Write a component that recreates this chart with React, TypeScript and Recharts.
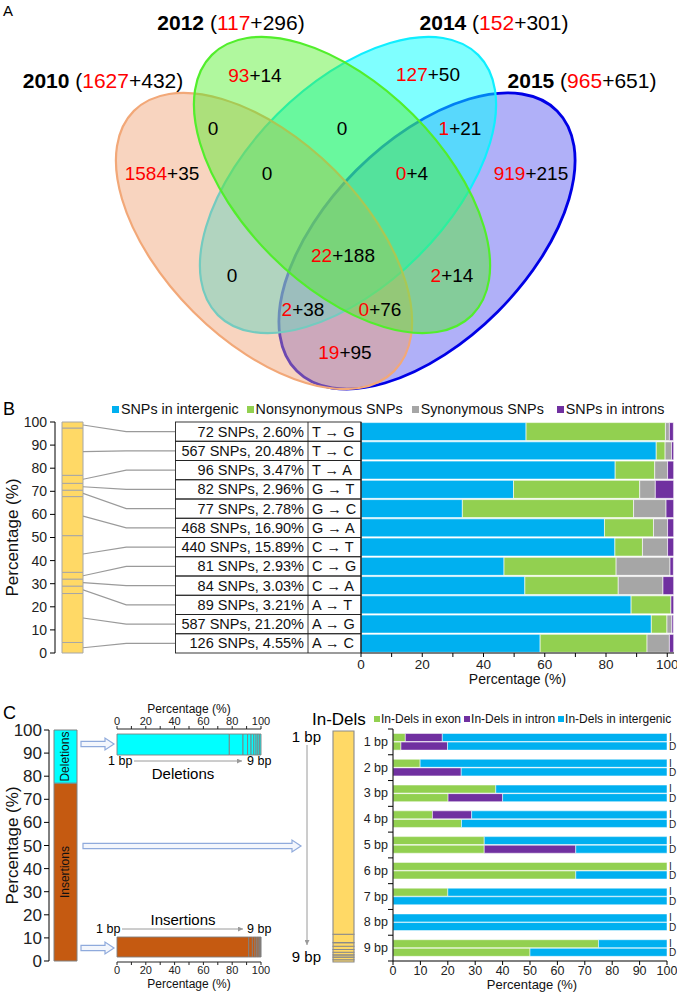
import React from "react";
import {
  ScatterChart,
  Scatter,
  BarChart,
  Bar,
  LineChart,
  Line,
  XAxis,
  YAxis,
  Legend,
  LabelList,
} from "recharts";

const FONT = '"Liberation Sans", Arial, Helvetica, sans-serif';
const RED = "#ff0000";
const C_INTERGENIC = "#00b0f0";
const C_NONSYN = "#92d050";
const C_SYN = "#a6a6a6";
const C_INTRON = "#7030a0";
const C_YELLOW = "#ffd966";
const C_INS = "#c55a11";
const C_DEL = "#00ffff";

const TICKS10 = [0, 10, 20, 30, 40, 50, 60, 70, 80, 90, 100];

// ---------- A: Venn ----------
const vennYears = ["2010", "2012", "2014", "2015"];
const vennNovel = [1627, 117, 152, 965];
const vennKnown = [432, 296, 301, 651];
// 15 regions: 4 singles, then the overlaps
const regionNovel = [1584, 93, 127, 919, 0, 0, 1, 0, 0, 22, 0, 2, 2, 0, 19];
const regionKnown = [35, 14, 50, 215, 0, 0, 21, 0, 4, 188, 0, 14, 38, 76, 95];

// ---------- B: SNPs ----------
const snpTypes = ["T → G", "T → C", "T → A", "G → T", "G → C", "G → A", "C → T", "C → G", "C → A", "A → T", "A → G", "A → C"];
const snpCounts = [72, 567, 96, 82, 77, 468, 440, 81, 84, 89, 587, 126];
const snpShares = [2.6, 20.48, 3.47, 2.96, 2.78, 16.9, 15.89, 2.93, 3.03, 3.21, 21.2, 4.55];
const snpIntergenic = [53.9, 96.4, 83.0, 49.8, 33.1, 79.5, 82.9, 46.7, 53.5, 88.2, 94.8, 58.5];
const snpNonsyn = [45.5, 2.9, 12.9, 41.2, 55.9, 16.0, 9.0, 36.6, 30.5, 13.0, 5.1, 34.9];
const snpSyn = [1.3, 2.1, 4.2, 5.1, 10.6, 4.6, 8.2, 17.6, 14.6, 0, 1.6, 7.3];
const snpIntron = [1.3, 0.7, 2.0, 6.0, 2.5, 2.0, 2.0, 1.1, 3.5, 0.9, 0.5, 1.4];

// ---------- C: In-Dels ----------
const indelKinds = ["Insertions", "Deletions"];
const indelShares = [77, 23];
const sizeLabels = ["1 bp", "2 bp", "3 bp", "4 bp", "5 bp", "6 bp", "7 bp", "8 bp", "9 bp"];
const delBySize = [78.0, 9.5, 3.2, 2.4, 1.9, 1.6, 1.3, 1.2, 0.9];
const insBySize = [91.5, 2.5, 1.8, 1.2, 1.0, 0.8, 0.5, 0.4, 0.3];
const allBySize = [88.0, 3.6, 1.6, 1.4, 1.2, 1.1, 1.0, 1.1, 1.0];
const exonI = [4.5, 9.9, 37.5, 14.4, 33.3, 100, 20, 0, 75];
const intronI = [13.5, 0, 0, 14.3, 0, 0, 0, 0, 0];
const interI = [82.0, 90.1, 62.5, 71.3, 66.7, 0, 80, 100, 25];
const exonD = [2.9, 0, 20.1, 25.0, 33.3, 66.7, 0, 0, 50];
const intronD = [17.0, 24.9, 19.9, 0, 33.4, 0, 0, 0, 0];
const interD = [80.1, 75.1, 60.0, 75.0, 33.3, 33.3, 100, 100, 50];

// Venn layout (own 677 x 392 units)
const ELLIPSES = [
  { ex: 264, ey: 241, rot: 45, fill: "#f0a070", op: 0.45, stroke: "#f2a878", sw: 2.2 },
  { ex: 342, ey: 185, rot: 45, fill: "#50f028", op: 0.45, stroke: "#52ee2c", sw: 2.2 },
  { ex: 348, ey: 185, rot: -45, fill: "#00ffff", op: 0.5, stroke: "#10eeff", sw: 2.2 },
  { ex: 427, ey: 241, rot: -45, fill: "#5a5af0", op: 0.48, stroke: "#0000e6", sw: 2.8 },
];
const DRAW_ORDER = [3, 2, 0, 1];
const TITLE_POS = [[103, 80], [231, 22], [494, 22], [582, 80]];
const REGION_POS = [
  [162, 173], [255, 75], [428, 74], [531, 173], [213, 128], [342, 128], [460, 128],
  [267, 173], [412, 173], [343, 255], [232, 275], [452, 275], [303, 309], [380, 309], [345, 352],
];

const every20 = (v: number) => (v % 20 === 0 ? String(v) : "");

const EllipseShape = (p: any) => {
  const e = p.payload;
  return (
    <ellipse
      cx={p.cx}
      cy={p.cy}
      rx={184}
      ry={100}
      transform={`rotate(${e.rot} ${p.cx} ${p.cy})`}
      fill={e.fill}
      fillOpacity={e.op}
      stroke={e.stroke}
      strokeWidth={e.sw}
    />
  );
};

const RegionLabel = (p: any) => {
  const { novel, known } = p.payload;
  return (
    <text x={p.cx} y={p.cy} textAnchor="middle" dominantBaseline="central" fontSize={19} fill="#000">
      {novel === 0 && known === 0 ? (
        "0"
      ) : (
        <>
          <tspan fill={RED}>{novel}</tspan>
          <tspan>+{known}</tspan>
        </>
      )}
    </text>
  );
};

const TitleLabel = (p: any) => {
  const d = p.payload;
  return (
    <text x={p.cx} y={p.cy} textAnchor="middle" dominantBaseline="central" fontSize={21} fill="#000">
      <tspan fontWeight="bold">{d.year}</tspan>
      <tspan> (</tspan>
      <tspan fill={RED}>{d.novel}</tspan>
      <tspan>+{d.known})</tspan>
    </text>
  );
};

const VennPanel = () => {
  const ellipseData = DRAW_ORDER.map((i) => ({ x: ELLIPSES[i].ex, y: ELLIPSES[i].ey, ...ELLIPSES[i] }));
  const regionData = regionNovel.map((n, i) => ({ x: REGION_POS[i][0], y: REGION_POS[i][1], novel: n, known: regionKnown[i] }));
  const titleData = vennYears.map((yr, i) => ({ x: TITLE_POS[i][0], y: TITLE_POS[i][1], year: yr, novel: vennNovel[i], known: vennKnown[i] }));
  return (
    <ScatterChart width={677} height={392} margin={{ top: 0, right: 0, bottom: 0, left: 0 }}>
      <XAxis type="number" dataKey="x" domain={[0, 677]} hide />
      <YAxis type="number" dataKey="y" domain={[0, 392]} reversed hide />
      <Scatter data={ellipseData} shape={EllipseShape} isAnimationActive={false} />
      <Scatter data={regionData} shape={RegionLabel} isAnimationActive={false} />
      <Scatter data={titleData} shape={TitleLabel} isAnimationActive={false} />
    </ScatterChart>
  );
};

// ---------- shared bits ----------
const vTitle = (x: number, y: number, size: number) => () => (
  <text x={x} y={y} transform={`rotate(-90 ${x} ${y})`} textAnchor="middle" dominantBaseline="central" fontSize={size} fill="#111">
    Percentage (%)
  </text>
);
const hTitle = (x: number, y: number, size: number) => () => (
  <text x={x} y={y} textAnchor="middle" dominantBaseline="central" fontSize={size} fill="#111">
    Percentage (%)
  </text>
);

const LegendRow = ({ items, fontSize, gaps, box, boxGap }: any) => (
  <div style={{ display: "flex", fontSize, fontFamily: FONT, color: "#111", whiteSpace: "nowrap", lineHeight: `${fontSize + 4}px` }}>
    {items.map((it: any, i: number) => (
      <span key={it.label} style={{ display: "flex", alignItems: "center", marginLeft: i === 0 ? 0 : gaps[i - 1] }}>
        <span style={{ width: box, height: box, background: it.color, marginRight: boxGap, display: "inline-block" }} />
        {it.label}
      </span>
    ))}
  </div>
);

// ---------- B ----------
const B_PLOT_H = 231;
const TABLE_W = 186;
const TABLE_SPLIT = 133;

const snpRows = snpTypes.map((t, i) => ({
  type: t,
  intergenic: snpIntergenic[i],
  nonsyn: snpNonsyn[i],
  syn: snpSyn[i],
  intron: snpIntron[i],
}));

const TableTick = (p: any) => {
  const i = p.index;
  const rh = B_PLOT_H / snpTypes.length;
  const y = p.y;
  return (
    <g>
      <rect x={0.5} y={y - rh / 2} width={TABLE_W - 0.5} height={rh} fill="none" stroke="#222" strokeWidth={0.9} />
      <line x1={TABLE_SPLIT} x2={TABLE_SPLIT} y1={y - rh / 2} y2={y + rh / 2} stroke="#222" strokeWidth={0.9} />
      <text x={TABLE_SPLIT - 4} y={y} textAnchor="end" dominantBaseline="central" fontSize={14.5} fill="#111">
        {`${snpCounts[i]} SNPs, ${snpShares[i].toFixed(2)}%`}
      </text>
      <text x={TABLE_SPLIT + 4} y={y} dominantBaseline="central" fontSize={14.5} fill="#111">
        {p.payload.value}
      </text>
    </g>
  );
};

const SnpColumn = () => {
  const row = [Object.fromEntries(snpTypes.map((t, i) => [`s${i}`, snpShares[i]]))];
  const bottomUp = snpTypes.map((_, i) => snpTypes.length - 1 - i);
  return (
    <BarChart width={90} height={251} data={row} margin={{ top: 10, right: 0, bottom: 10, left: 0 }} barCategoryGap={7}>
      <XAxis hide />
      <YAxis
        type="number"
        domain={[0, 100]}
        ticks={TICKS10}
        interval={0}
        width={55}
        tickSize={5}
        tickMargin={3}
        tick={{ fontSize: 14, fill: "#222" }}
        axisLine={{ stroke: "#000" }}
        tickLine={{ stroke: "#000" }}
        label={vTitle(12, 125.5, 17)}
      />
      {bottomUp.map((i) => (
        <Bar key={i} dataKey={`s${i}`} stackId="y" fill={C_YELLOW} stroke="#a6a6a6" strokeWidth={1} isAnimationActive={false} />
      ))}
    </BarChart>
  );
};

const ELBOW = 0.47;
const SnpConnectors = () => {
  const n = snpTypes.length;
  const lines = snpTypes.map((_, i) => {
    let below = 0;
    for (let k = i + 1; k < n; k++) below += snpShares[k];
    const mid = below + snpShares[i] / 2;
    const rowC = 100 - ((i + 0.5) * 100) / n;
    return [
      { x: 0, y: mid },
      { x: ELBOW, y: rowC },
      { x: 1, y: rowC },
    ];
  });
  return (
    <LineChart width={92} height={251} margin={{ top: 10, right: 0, bottom: 10, left: 0 }}>
      <XAxis type="number" dataKey="x" domain={[0, 1]} hide />
      <YAxis type="number" domain={[0, 100]} hide />
      {lines.map((pts, i) => (
        <Line key={i} data={pts} dataKey="y" type="linear" stroke="#9a9a9a" strokeWidth={1.1} dot={false} isAnimationActive={false} />
      ))}
    </LineChart>
  );
};

const snpLegend = [
  { label: "SNPs in intergenic", color: C_INTERGENIC },
  { label: "Nonsynonymous SNPs", color: C_NONSYN },
  { label: "Synonymous SNPs", color: C_SYN },
  { label: "SNPs in introns", color: C_INTRON },
];

const SnpBars = () => (
  <BarChart layout="vertical" width={502} height={290} data={snpRows} margin={{ top: 22, right: 3, bottom: 5, left: 0 }} barCategoryGap={0.6}>
    <XAxis
      type="number"
      domain={[0, 102.2]}
      allowDataOverflow
      ticks={TICKS10}
      interval={0}
      tickFormatter={every20}
      height={32}
      tickSize={4}
      tickMargin={2}
      tick={{ fontSize: 13.5, fill: "#222" }}
      axisLine={{ stroke: "#000" }}
      tickLine={{ stroke: "#000" }}
      label={hTitle(342.5, 279, 14)}
    />
    <YAxis type="category" dataKey="type" width={TABLE_W} tick={<TableTick />} tickLine={false} axisLine={{ stroke: "#000" }} interval={0} />
    <Legend
      verticalAlign="middle"
      align="center"
      wrapperStyle={{ left: -63, top: 0, width: 565 }}
      content={() => <LegendRow items={snpLegend} fontSize={14.3} gaps={[8, 9, 13]} box={7} boxGap={2} />}
    />
    <Bar dataKey="intergenic" stackId="s" fill={C_INTERGENIC} stroke="#fff" strokeWidth={0.6} isAnimationActive={false} />
    <Bar dataKey="nonsyn" stackId="s" fill={C_NONSYN} stroke="#fff" strokeWidth={0.6} isAnimationActive={false} />
    <Bar dataKey="syn" stackId="s" fill={C_SYN} stroke="#fff" strokeWidth={0.6} isAnimationActive={false} />
    <Bar dataKey="intron" stackId="s" fill={C_INTRON} stroke="#fff" strokeWidth={0.6} isAnimationActive={false} />
  </BarChart>
);

// ---------- C ----------
const innerVLabel = (txt: string) => (p: any) => {
  const vb = p.viewBox || p;
  const cx = vb.x + vb.width / 2;
  const cy = vb.y + vb.height / 2;
  return (
    <text x={cx} y={cy} transform={`rotate(-90 ${cx} ${cy})`} textAnchor="middle" dominantBaseline="central" fontSize={12} fill="#111">
      {txt}
    </text>
  );
};

const IndelColumn = () => {
  const row = [{ ins: indelShares[0], del: indelShares[1] }];
  return (
    <BarChart width={82} height={251} data={row} margin={{ top: 10, right: 0, bottom: 10, left: 0 }} barCategoryGap={5}>
      <XAxis hide />
      <YAxis
        type="number"
        domain={[0, 100]}
        ticks={TICKS10}
        interval={0}
        width={49}
        tickSize={5}
        tickMargin={2}
        tick={{ fontSize: 17, fill: "#222" }}
        axisLine={{ stroke: "#000" }}
        tickLine={{ stroke: "#000" }}
        label={vTitle(12, 125.5, 17)}
      />
      <Bar dataKey="ins" stackId="c" fill={C_INS} stroke="#808080" strokeWidth={1} isAnimationActive={false}>
        <LabelList content={innerVLabel(indelKinds[0])} />
      </Bar>
      <Bar dataKey="del" stackId="c" fill={C_DEL} stroke="#808080" strokeWidth={1} isAnimationActive={false}>
        <LabelList content={innerVLabel(indelKinds[1])} />
      </Bar>
    </BarChart>
  );
};

const sizeRow = (vals: number[]) => [Object.fromEntries(sizeLabels.map((_, i) => [`b${i}`, vals[i]]))];

const SizeStrip = ({ vals, fill, top }: any) => (
  <BarChart
    layout="vertical"
    width={170}
    height={top ? 60 : 65}
    data={sizeRow(vals)}
    margin={top ? { top: 3, right: 16, bottom: 0, left: 10 } : { top: 5, right: 16, bottom: 0, left: 10 }}
    barCategoryGap={5}
  >
    <XAxis
      type="number"
      orientation={top ? "top" : "bottom"}
      domain={[0, 100]}
      ticks={TICKS10}
      interval={0}
      tickFormatter={every20}
      height={top ? 26 : 30}
      tickSize={3}
      tickMargin={1}
      tick={{ fontSize: 11, fill: "#222" }}
      axisLine={{ stroke: "#222" }}
      tickLine={{ stroke: "#222" }}
      label={hTitle(82, top ? 8.5 : 57, 12)}
    />
    <YAxis type="category" hide />
    {sizeLabels.map((_, i) => (
      <Bar key={i} dataKey={`b${i}`} stackId="z" fill={fill} stroke="#7f7f7f" strokeWidth={0.9} isAnimationActive={false} />
    ))}
  </BarChart>
);

const SizeColumn = () => {
  const bottomUp = sizeLabels.map((_, i) => sizeLabels.length - 1 - i);
  return (
    <BarChart width={35} height={250} data={sizeRow(allBySize)} margin={{ top: 10, right: 0, bottom: 9, left: 0 }} barCategoryGap={7}>
      <XAxis hide />
      <YAxis type="number" domain={[0, 100]} hide />
      {bottomUp.map((i) => (
        <Bar key={i} dataKey={`b${i}`} stackId="a" fill={C_YELLOW} stroke="#8a8a8a" strokeWidth={1.1} isAnimationActive={false} />
      ))}
    </BarChart>
  );
};

const CR_PLOT_H = 232;
const CR_PLOT_W = 274;
const CR_AXIS_X = 48;
const sizeRows = sizeLabels.map((s, i) => ({
  size: s,
  exonI: exonI[i],
  intronI: intronI[i],
  interI: interI[i],
  exonD: exonD[i],
  intronD: intronD[i],
  interD: interD[i],
}));

// category tick: size label on the left, group boundary marks, and the I / D tags at the right end
const SizeTick = (p: any) => {
  const band = CR_PLOT_H / sizeLabels.length;
  const y = p.y;
  const last = p.index === sizeLabels.length - 1;
  const rx = CR_AXIS_X + CR_PLOT_W + 2;
  return (
    <g>
      <text x={CR_AXIS_X - 5} y={y} textAnchor="end" dominantBaseline="central" fontSize={12.5} fill="#222">
        {p.payload.value}
      </text>
      <line x1={CR_AXIS_X - 5} x2={CR_AXIS_X} y1={y - band / 2} y2={y - band / 2} stroke="#000" />
      {last && <line x1={CR_AXIS_X - 5} x2={CR_AXIS_X} y1={y + band / 2} y2={y + band / 2} stroke="#000" />}
      <text x={rx} y={y - 4.6} dominantBaseline="central" fontSize={10} fill="#222">I</text>
      <text x={rx} y={y + 4.8} dominantBaseline="central" fontSize={10} fill="#222">D</text>
    </g>
  );
};

const indelLegend = [
  { label: "In-Dels in exon", color: C_NONSYN },
  { label: "In-Dels in intron", color: C_INTRON },
  { label: "In-Dels in intergenic", color: C_INTERGENIC },
];

const SizeBars = () => (
  <BarChart layout="vertical" width={332} height={284} data={sizeRows} margin={{ top: 21, right: 10, bottom: 3, left: 0 }} barCategoryGap={4.5} barGap={0.6}>
    <XAxis
      type="number"
      domain={[0, 100]}
      ticks={TICKS10}
      interval={0}
      height={28}
      tickSize={4}
      tickMargin={1}
      tick={{ fontSize: 12.5, fill: "#222" }}
      axisLine={{ stroke: "#000" }}
      tickLine={{ stroke: "#000" }}
      label={hTitle(187, 276.5, 13)}
    />
    <YAxis type="category" dataKey="size" width={CR_AXIS_X} tick={<SizeTick />} tickLine={false} axisLine={{ stroke: "#000" }} interval={0} />
    <Legend
      verticalAlign="middle"
      align="center"
      wrapperStyle={{ left: 29, top: 3, width: 305 }}
      content={() => <LegendRow items={indelLegend} fontSize={12} gaps={[3, 3]} box={6} boxGap={1} />}
    />
    <Bar dataKey="exonI" stackId="I" fill={C_NONSYN} stroke="#fff" strokeWidth={0.5} isAnimationActive={false} />
    <Bar dataKey="intronI" stackId="I" fill={C_INTRON} stroke="#fff" strokeWidth={0.5} isAnimationActive={false} />
    <Bar dataKey="interI" stackId="I" fill={C_INTERGENIC} stroke="#fff" strokeWidth={0.5} isAnimationActive={false} />
    <Bar dataKey="exonD" stackId="D" fill={C_NONSYN} stroke="#fff" strokeWidth={0.5} isAnimationActive={false} />
    <Bar dataKey="intronD" stackId="D" fill={C_INTRON} stroke="#fff" strokeWidth={0.5} isAnimationActive={false} />
    <Bar dataKey="interD" stackId="D" fill={C_INTERGENIC} stroke="#fff" strokeWidth={0.5} isAnimationActive={false} />
  </BarChart>
);

// ---------- decorations ----------
const BlockArrow = ({ x1, x2, y }: any) => {
  const s = 2.6;
  const h = 6;
  const l = 9;
  const d = `M${x1},${y - s} L${x2 - l},${y - s} L${x2 - l},${y - h} L${x2},${y} L${x2 - l},${y + h} L${x2 - l},${y + s} L${x1},${y + s} Z`;
  return <path d={d} fill="#f3f6fc" stroke="#8faadc" strokeWidth={1.2} />;
};

const Overlay = () => (
  <svg width={677} height={992} style={{ position: "absolute", left: 0, top: 0, pointerEvents: "none" }} fontFamily={FONT}>
    <defs>
      <marker id="gh" viewBox="0 0 6 6" refX="6" refY="3" markerWidth="5" markerHeight="5" orient="auto">
        <path d="M0,0 L6,3 L0,6 Z" fill="#9a9a9a" />
      </marker>
    </defs>
    <text x={3} y={16} fontSize={15}>A</text>
    <text x={3} y={415} fontSize={18}>B</text>
    <text x={3} y={719} fontSize={18}>C</text>

    <BlockArrow x1={81} x2={114} y={744} />
    <BlockArrow x1={83} x2={301} y={846} />
    <BlockArrow x1={81} x2={114} y={948} />

    <text x={108} y={761} dominantBaseline="central" fontSize={12.5}>1 bp</text>
    <line x1={134} x2={242} y1={761} y2={761} stroke="#9a9a9a" strokeWidth={1} markerEnd="url(#gh)" />
    <text x={247} y={761} dominantBaseline="central" fontSize={12.5}>9 bp</text>
    <text x={183} y={773} textAnchor="middle" dominantBaseline="central" fontSize={15}>Deletions</text>

    <text x={183} y={919} textAnchor="middle" dominantBaseline="central" fontSize={15}>Insertions</text>
    <text x={96} y={929} dominantBaseline="central" fontSize={12.5}>1 bp</text>
    <line x1={122} x2={243} y1={929} y2={929} stroke="#9a9a9a" strokeWidth={1} markerEnd="url(#gh)" />
    <text x={247} y={929} dominantBaseline="central" fontSize={12.5}>9 bp</text>

    <text x={312} y={719} dominantBaseline="central" fontSize={17}>In-Dels</text>
    <text x={321} y={736} textAnchor="end" dominantBaseline="central" fontSize={15}>1 bp</text>
    <text x={321} y={956} textAnchor="end" dominantBaseline="central" fontSize={15}>9 bp</text>
    <line x1={307} x2={307} y1={745} y2={945} stroke="#9a9a9a" strokeWidth={1} markerEnd="url(#gh)" />
  </svg>
);

const At = ({ left, top, children }: any) => <div style={{ position: "absolute", left, top }}>{children}</div>;

export default function App() {
  return (
    <div style={{ position: "absolute", left: 0, top: 0, width: 677, height: 992, background: "#fff", fontFamily: FONT, overflow: "hidden" }}>
      <At left={0} top={0}><VennPanel /></At>
      <At left={0} top={412}><SnpColumn /></At>
      <At left={83} top={412}><SnpConnectors /></At>
      <At left={175} top={400}><SnpBars /></At>
      <At left={0} top={720}><IndelColumn /></At>
      <At left={107} top={700}><SizeStrip vals={delBySize} fill={C_DEL} top /></At>
      <At left={107} top={927}><SizeStrip vals={insBySize} fill={C_INS} /></At>
      <At left={326} top={721}><SizeColumn /></At>
      <At left={345} top={708}><SizeBars /></At>
      <Overlay />
    </div>
  );
}
